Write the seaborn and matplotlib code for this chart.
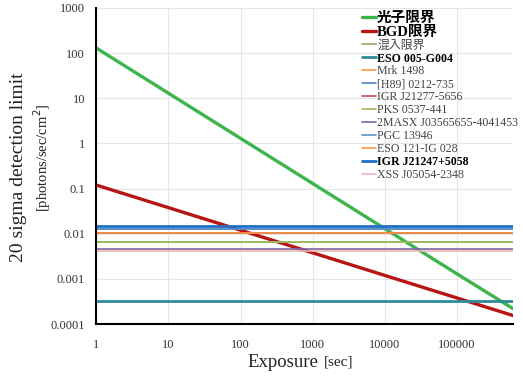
import pandas as pd
import matplotlib
matplotlib.use("Agg")
import matplotlib.pyplot as plt
import seaborn as sns

# values
exposure = [1, 10, 100, 1000, 10000, 100000, 600000]
photon_limit = [130, 13, 1.3, 0.13, 0.013, 0.0013, 0.00022]
bgd_limit = [0.12, 0.038, 0.012, 0.0038, 0.0012, 0.00038, 0.000155]

x_range = [1, 600000]
source_names = ["混入限界", "ESO 005-G004", "Mrk 1498", "[H89] 0212-735", "IGR J21277-5656",
                "PKS 0537-441", "2MASX J03565655-4041453", "PGC 13946", "ESO 121-IG 028",
                "IGR J21247+5058", "XSS J05054-2348"]
source_flux = [0.0067, 0.00032, 0.0103, 0.0129, 0.0105, 0.0067, 0.0047, 0.0129, 0.0103, 0.0152, 0.0041]
source_colors = ["#93A95E", "#2E8B9A", "#F79646", "#4F81BD", "#C0504D", "#9BBB59", "#8064A2",
                 "#5B8FC9", "#F79646", "#1F6FC5", "#E6B9B8"]
thick = ["ESO 005-G004", "IGR J21247+5058"]

xticks = [1, 10, 100, 1000, 10000, 100000]
yticks = [0.0001, 0.001, 0.01, 0.1, 1, 10, 100, 1000]

sns.set_style("white")
plt.rcParams["font.family"] = ["Liberation Serif", "Noto Sans CJK JP"]

fig = plt.figure(figsize=(5.23, 3.8), dpi=100)
ax = fig.add_axes([0.184, 0.147, 0.797, 0.832])

sns.lineplot(x=exposure, y=photon_limit, ax=ax, color="#3DB54A", linewidth=2.4, label="光子限界")
sns.lineplot(x=exposure, y=bgd_limit, ax=ax, color="#B81414", linewidth=2.4, label="BGD限界")
for name, flux, col in zip(source_names, source_flux, source_colors):
    lw = 2.0 if name in thick else 1.2
    sns.lineplot(x=x_range, y=[flux, flux], ax=ax, color=col, linewidth=lw, label=name)

ax.set_xscale("log")
ax.set_yscale("log")
ax.set_xlim(1, 600000)
ax.set_ylim(0.0001, 1000)
ax.set_xticks(xticks)
ax.set_xticklabels([str(t) for t in xticks])
ax.set_yticks(yticks)
ax.set_yticklabels(["0.0001", "0.001", "0.01", "0.1", "1", "10", "100", "1000"])
ax.minorticks_off()
ax.tick_params(direction="in", length=4, width=1.2, colors="black", labelsize=9,
               labelcolor="#333333", pad=8)
ax.tick_params(axis="x", pad=11)
ax.grid(True, color="#e6e6e6", linewidth=0.8)
for s in ["top", "right"]:
    ax.spines[s].set_visible(False)
for s in ["left", "bottom"]:
    ax.spines[s].set_color("black")
    ax.spines[s].set_linewidth(1.5)

ax.set_xlabel("")
ax.set_ylabel("")
fig.text(0.608, 0.047, "Exposure", fontsize=13.5, ha="right", va="center", color="#222222")
fig.text(0.620, 0.047, "[sec]", fontsize=11, ha="left", va="center", color="#222222")
fig.text(0.036, 0.56, "20 sigma detection limit", fontsize=14, rotation=90,
         ha="center", va="center", color="#222222")
fig.text(0.080, 0.585, "[photons/sec/cm$^2$]", fontsize=10.5, rotation=90,
         ha="center", va="center", color="#222222")

leg = ax.legend(loc="upper left", bbox_to_anchor=(0.625, 1.005), frameon=False,
                fontsize=8.6, handlelength=1.2, handletextpad=0.1, labelspacing=0.08,
                borderaxespad=0)
for txt in leg.get_texts():
    t = txt.get_text()
    if t in ["光子限界", "BGD限界"]:
        txt.set_fontweight("bold")
        txt.set_fontsize(10.5)
        txt.set_color("black")
    elif t in thick:
        txt.set_fontweight("bold")
        txt.set_color("black")
    else:
        txt.set_color("#444444")

fig.savefig("out.png", dpi=100)
